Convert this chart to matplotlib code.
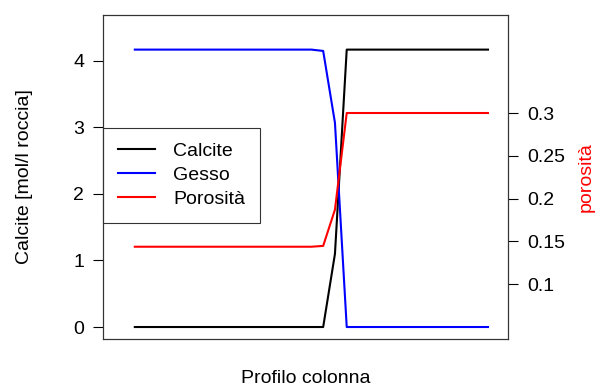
import numpy as np
import matplotlib
matplotlib.use("Agg")
import matplotlib.pyplot as plt

plt.rcParams['font.family'] = ['Liberation Sans', 'DejaVu Sans']

# profile positions along the column (31 cells)
cells = np.arange(31)

calcite = [0.0] * 17 + [1.10] + [4.17] * 13
gesso = [4.17] * 16 + [4.15, 3.07] + [0.0] * 13
porosita = [0.1436] * 16 + [0.1446, 0.187] + [0.300] * 13

left_ticks = [0, 1, 2, 3, 4]
right_ticks = [0.1, 0.15, 0.2, 0.25, 0.3]
right_labels = ["0.1", "0.15", "0.2", "0.25", "0.3"]

fs = 14

fig = plt.figure(figsize=(6.01, 3.85), dpi=100)
ax = fig.add_axes([0.1714, 0.1195, 0.8453 - 0.1714, 0.961 - 0.1195])
ax.plot(cells, calcite, color="black", lw=1.5, label="Calcite")
ax.plot(cells, gesso, color="blue", lw=1.5, label="Gesso")
ax.set_xlim(-2.7, 31.7)
ax.set_ylim(-0.18, 4.69)
ax.set_xticks([])
ax.set_yticks(left_ticks)
ax.set_yticklabels([str(t) for t in left_ticks])
ax.set_xlabel("Profilo colonna", fontsize=fs, labelpad=22)
ax.set_ylabel("Calcite [mol/l roccia]", fontsize=fs, labelpad=29)
ax.tick_params(axis="y", length=7.5, width=0.8, pad=6, labelsize=fs)

ax2 = ax.twinx()
ax2.plot(cells, porosita, color="red", lw=1.5, label="Porosità")
ax2.set_ylim(0.0357, 0.4146)
ax2.set_yticks(right_ticks)
ax2.set_yticklabels(right_labels)
ax2.tick_params(axis="y", length=7.5, width=0.8, pad=6, labelsize=fs)
ax2.set_ylabel("porosità", color="red", fontsize=fs, labelpad=9)

for a in (ax, ax2):
    for s in a.spines.values():
        s.set_color("#333333")
        s.set_linewidth(0.8)

handles = ax.get_lines() + ax2.get_lines()
leg = ax.legend(handles, [h.get_label() for h in handles],
                loc="upper left", bbox_to_anchor=(0.0, (339 - 128) / 324.0),
                fontsize=fs, frameon=True, fancybox=False, edgecolor="black",
                handlelength=1.9, handletextpad=0.95, borderpad=0.75,
                labelspacing=0.33, borderaxespad=0)
leg.get_frame().set_linewidth(0.8)
leg.set_zorder(5)

fig.savefig("out.png", dpi=100)
